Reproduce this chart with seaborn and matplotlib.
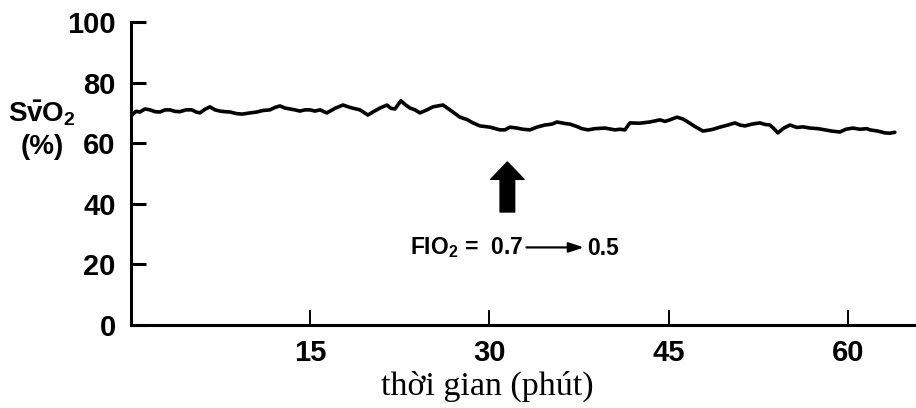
import matplotlib
matplotlib.use("Agg")
import matplotlib.pyplot as plt
import seaborn as sns
import pandas as pd

# ---- data (minutes, SvO2 %) ----
time_min = [0.00, 0.42, 0.75, 1.17, 1.59, 2.01, 2.43, 2.85, 3.26, 3.68, 4.10, 4.60,
            5.10, 5.44, 5.77, 6.19, 6.61, 7.03, 7.45, 7.87, 8.28, 8.79, 9.29, 9.96,
            10.54, 11.05, 11.63, 12.05, 12.47, 12.89, 13.31, 13.72, 14.14, 14.56,
            14.98, 15.40, 15.82, 16.40, 17.07, 17.74, 18.33, 19.16, 19.83, 20.33,
            20.84, 21.42, 21.76, 22.09, 22.59, 22.93, 23.35, 23.77, 24.18, 24.77,
            25.27, 26.11, 26.69, 27.53, 28.12, 28.62, 29.21, 30.04, 30.88, 31.30,
            31.72, 32.30, 32.80, 33.39, 33.97, 34.64, 35.23, 35.65, 36.32, 36.74,
            37.32, 37.74, 38.24, 38.83, 39.67, 40.50, 40.92, 41.34, 41.76, 42.59,
            43.43, 44.27, 44.69, 45.10, 45.69, 46.19, 46.61, 47.20, 47.87, 48.62,
            49.29, 49.96, 50.54, 50.96, 51.38, 51.97, 52.64, 53.05, 53.47, 53.81,
            54.14, 54.64, 55.15, 55.73, 56.23, 56.82, 57.49, 58.08, 58.66, 59.33,
            59.83, 60.42, 61.00, 61.59, 61.84, 62.51, 63.10, 63.51, 63.93]
svo2 = [69.0, 70.5, 70.3, 71.3, 71.0, 70.4, 70.3, 71.0, 71.0, 70.5, 70.4, 71.0,
        71.0, 70.3, 70.0, 71.2, 72.0, 71.0, 70.6, 70.4, 70.3, 69.8, 69.6, 70.0,
        70.3, 70.8, 71.0, 71.8, 72.3, 71.6, 71.3, 71.0, 70.6, 71.0,
        71.0, 70.6, 71.0, 70.0, 71.5, 72.6, 71.8, 71.0, 69.3, 70.5,
        71.6, 72.6, 71.5, 71.3, 74.0, 72.8, 71.6, 71.0, 70.0, 71.0,
        72.0, 72.6, 71.0, 68.6, 67.8, 66.7, 65.7, 65.3, 64.4, 64.4,
        65.3, 65.0, 64.6, 64.4, 65.3, 66.0, 66.3, 67.0, 66.5, 66.3,
        65.5, 64.8, 64.4, 64.8, 65.0, 64.4, 64.6, 64.4, 66.7, 66.6,
        67.0, 67.7, 67.2, 67.7, 68.6, 68.0, 67.0, 65.5, 64.0, 64.5,
        65.3, 66.0, 66.7, 66.0, 65.7, 66.3, 66.7, 66.2, 66.0, 64.8,
        63.4, 65.0, 66.0, 65.2, 65.4, 65.0, 64.8, 64.4, 64.0, 63.7,
        64.6, 65.0, 64.6, 64.8, 64.4, 64.0, 63.4, 63.3, 63.6]
x_ticks = [15, 30, 45, 60]
y_ticks = [0, 20, 40, 60, 80, 100]
x_label = "thời gian (phút)"
y_label = "S$\\bar{\\mathrm{v}}$O$_2$\n(%)"
annot_left = "FIO$_2$ =  0.7"
annot_right = "0.5"

df = pd.DataFrame({"t": time_min, "svo2": svo2})

sns.set_theme(style="ticks")
plt.rcParams["font.family"] = ["Liberation Sans", "DejaVu Sans"]
plt.rcParams["mathtext.fontset"] = "custom"
plt.rcParams["mathtext.rm"] = "Liberation Sans:bold"
plt.rcParams["mathtext.bf"] = "Liberation Sans:bold"
plt.rcParams["mathtext.it"] = "Liberation Sans:bold"

fig = plt.figure(figsize=(9.16, 4.08), dpi=100)
fig.patch.set_facecolor("white")
ax = fig.add_axes([131 / 916, 83 / 408, 1 - 131 / 916, 303 / 408])
ax.set_facecolor("white")

sns.lineplot(data=df, x="t", y="svo2", ax=ax, color="black", linewidth=2.6,
             estimator=None, sort=True)

ax.set_xlim(0, 65.7)
ax.set_ylim(0, 100)
ax.set_xticks(x_ticks)
ax.set_yticks(y_ticks)
for s in ["top", "right"]:
    ax.spines[s].set_visible(False)
for s in ["left", "bottom"]:
    ax.spines[s].set_linewidth(2.2)
    ax.spines[s].set_color("black")

ax.tick_params(axis="y", direction="in", length=11, width=2.2, pad=11,
               labelsize=21, colors="black")
ax.tick_params(axis="x", direction="in", length=11, width=1.4, pad=10,
               labelsize=21, colors="black")
for lab in ax.get_xticklabels() + ax.get_yticklabels():
    lab.set_fontweight("bold")

ax.set_xlabel(x_label, family=["Liberation Serif", "DejaVu Serif"], fontsize=24.5,
              color="black")
ax.xaxis.set_label_coords(0.454, -0.152)
ax.set_ylabel(y_label, rotation=0, fontsize=20, fontweight="bold",
              ha="center", va="center", multialignment="center", color="black",
              linespacing=1.3)
ax.yaxis.set_label_coords(-0.113, 0.645)

# FiO2 change annotation
ax.annotate("", xy=(31.5, 53.8), xytext=(31.5, 37.3),
            arrowprops=dict(arrowstyle="simple,head_length=1.25,head_width=2.4,tail_width=1.05",
                            fc="black", ec="black", mutation_scale=10,
                            shrinkA=0, shrinkB=0))
ax.text(32.8, 25.4, annot_left, ha="right", va="center", fontsize=16.5,
        fontweight="bold", color="black")
ax.annotate("", xy=(37.9, 25.6), xytext=(33.1, 25.6),
            arrowprops=dict(arrowstyle="-|>,head_length=0.9,head_width=0.3",
                            fc="black", ec="black", lw=1.6, mutation_scale=10,
                            shrinkA=0, shrinkB=0))
ax.text(38.2, 25.4, annot_right, ha="left", va="center", fontsize=16.5,
        fontweight="bold", color="black")

fig.savefig("out.png", dpi=100, facecolor="white")
